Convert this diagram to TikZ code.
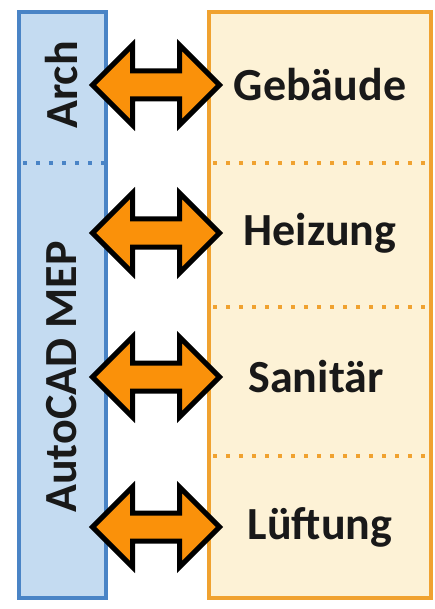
\documentclass[tikz,border=0pt]{standalone}
\usepackage{fontspec}
\setmainfont{Carlito}
\usetikzlibrary{shapes.arrows}
\definecolor{mepblue}{RGB}{74,132,198}
\definecolor{mepfill}{RGB}{196,219,241}
\definecolor{tradeorange}{RGB}{240,162,48}
\definecolor{tradefill}{RGB}{253,242,214}
\definecolor{linkorange}{RGB}{250,145,10}

\begin{document}
\begin{tikzpicture}[x=1pt, y=-1pt,
  every node/.style = {font=\bfseries\fontsize{46}{50}\selectfont},
  sidelabel/.style = {rotate=90, text=black!90},
  tradelabel/.style = {text=black!90},
  linkarrow/.style = {double arrow, draw=black, fill=linkorange, line width=5pt,
    inner xsep=0pt, inner ysep=11.5pt, minimum height=127pt, minimum width=75pt,
    double arrow head extend=26pt},
  sepblue/.style = {mepblue, line width=4pt, dash pattern=on 4pt off 9pt},
  seporange/.style = {tradeorange, line width=4pt, dash pattern=on 4pt off 9pt}
]
  \useasboundingbox (0,0) rectangle (435,609);

  % columns
  \filldraw[fill=mepfill, draw=mepblue, line width=4pt] (19,12) rectangle (106,598);
  \filldraw[fill=tradefill, draw=tradeorange, line width=4pt] (209,12) rectangle (431,598);
  \draw[sepblue] (23,163) -- (104,163);
  \draw[seporange] (213,163) -- (429,163);
  \draw[seporange] (213,307) -- (429,307);
  \draw[seporange] (213,456) -- (429,456);

  \node[sidelabel] (arch) at (62,85) {Arch};
  \node[sidelabel] (mep) at (62,377) {AutoCAD MEP};

  \node[tradelabel] (bau) at (320,85) {Gebäude};
  \node[tradelabel] (heiz) at (320,233) {Heizung};
  \node[tradelabel] (san) at (316,377) {Sanitär};
  \node[tradelabel] (luft) at (320,527) {Lüftung};

  \node[linkarrow] (link1) at (156,85) {};
  \node[linkarrow] (link2) at (156,233) {};
  \node[linkarrow] (link3) at (156,377) {};
  \node[linkarrow] (link4) at (156,527) {};
\end{tikzpicture}
\end{document}
